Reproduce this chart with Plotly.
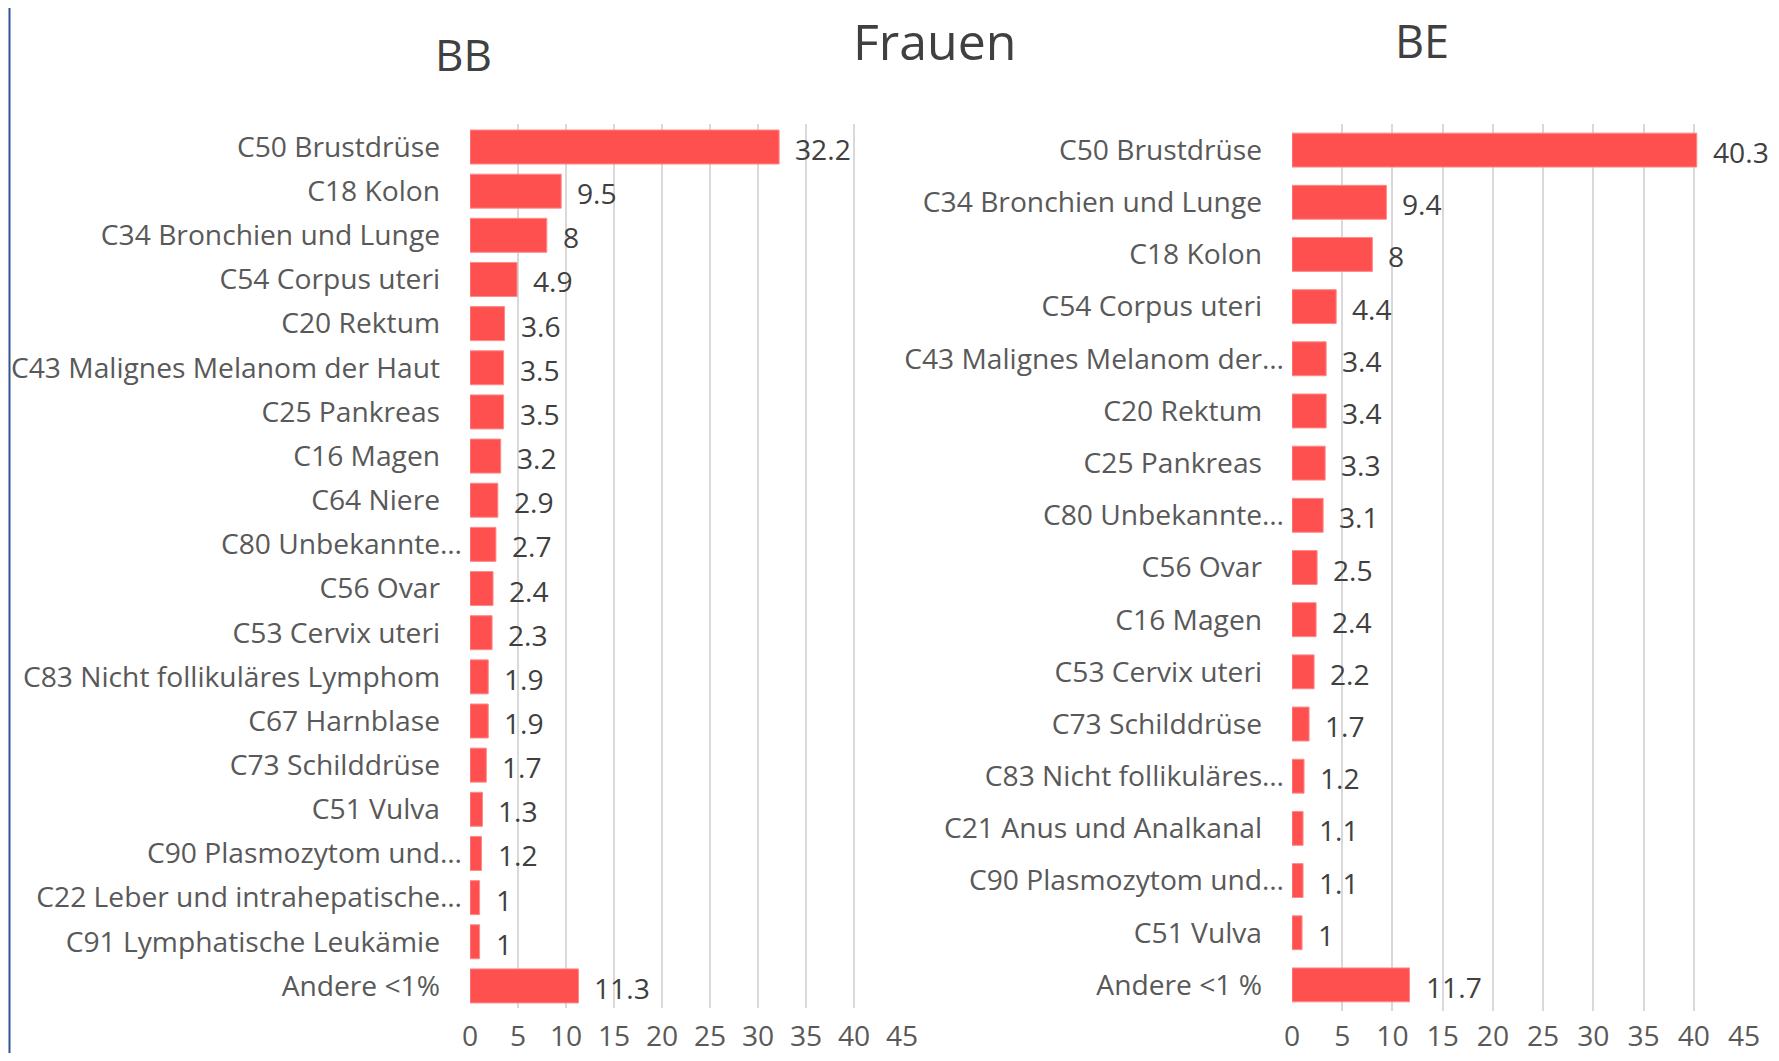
import plotly.graph_objects as go

# The page body keeps its default 8px margin, so the figure is sized to fit
# inside the 1779x1061 window and reference screen coordinates are shifted.
WIN_W, WIN_H = 1779, 1061
OFF = 8
W, H = WIN_W - 2 * OFF, WIN_H - 2 * OFF


def px(X):
    return (X - OFF) / W


def py(Y):
    return (WIN_H - OFF - Y) / H


bb_categories = [
    "C50 Brustdrüse", "C18 Kolon", "C34 Bronchien und Lunge", "C54 Corpus uteri",
    "C20 Rektum", "C43 Malignes Melanom der Haut", "C25 Pankreas", "C16 Magen",
    "C64 Niere", "C80 Unbekannte…", "C56 Ovar", "C53 Cervix uteri",
    "C83 Nicht follikuläres Lymphom", "C67 Harnblase", "C73 Schilddrüse",
    "C51 Vulva", "C90 Plasmozytom und…", "C22 Leber und intrahepatische…",
    "C91 Lymphatische Leukämie", "Andere <1%",
]
bb_values = [32.2, 9.5, 8, 4.9, 3.6, 3.5, 3.5, 3.2, 2.9, 2.7, 2.4, 2.3, 1.9, 1.9,
             1.7, 1.3, 1.2, 1, 1, 11.3]

be_categories = [
    "C50 Brustdrüse", "C34 Bronchien und Lunge", "C18 Kolon", "C54 Corpus uteri",
    "C43 Malignes Melanom der…", "C20 Rektum", "C25 Pankreas", "C80 Unbekannte…",
    "C56 Ovar", "C16 Magen", "C53 Cervix uteri", "C73 Schilddrüse",
    "C83 Nicht follikuläres…", "C21 Anus und Analkanal", "C90 Plasmozytom und…",
    "C51 Vulva", "Andere <1 %",
]
be_values = [40.3, 9.4, 8, 4.4, 3.4, 3.4, 3.3, 3.1, 2.5, 2.4, 2.2, 1.7, 1.2, 1.1,
             1.1, 1, 11.7]

x_ticks = [0, 5, 10, 15, 20, 25, 30, 35, 40, 45]

FONT = "Open Sans"
FS = 28.2
LABEL_C = "#595959"
VALUE_C = "#404040"
BAR_C = "#FF5050"
GRID_C = "#D9D9D9"


def padded(labels):
    # Excel-style: truncated labels sit closer to the axis than full ones
    return [l if l.endswith("…") else l + "\u00a0\u00a0\u00a0" for l in labels]


fig = go.Figure()
fig.add_trace(go.Bar(
    x=bb_values, y=bb_categories, orientation="h", width=0.77,
    marker=dict(color=BAR_C, line=dict(color="#FF8A8A", width=1)),
    xaxis="x", yaxis="y", showlegend=False, hoverinfo="x+y",
))
fig.add_trace(go.Bar(
    x=be_values, y=be_categories, orientation="h", width=0.65,
    marker=dict(color=BAR_C, line=dict(color="#FF8A8A", width=1)),
    xaxis="x2", yaxis="y2", showlegend=False, hoverinfo="x+y",
))

annotations = []
for cats, vals, xr, yr in [(bb_categories, bb_values, "x", "y"),
                           (be_categories, be_values, "x2", "y2")]:
    for c, v in zip(cats, vals):
        annotations.append(dict(
            x=v, y=c, xref=xr, yref=yr, text=f"{v:g}", showarrow=False,
            xanchor="left", yanchor="middle", xshift=14, yshift=-2,
            font=dict(family=FONT, size=FS, color=VALUE_C),
        ))

annotations += [
    dict(x=px(934), y=py(41), xref="paper", yref="paper", text="Frauen",
         showarrow=False, xanchor="center", yanchor="middle",
         font=dict(family=FONT, size=50, color=VALUE_C)),
    dict(x=px(463), y=py(54), xref="paper", yref="paper", text="BB",
         showarrow=False, xanchor="center", yanchor="middle",
         font=dict(family=FONT, size=44, color=VALUE_C)),
    dict(x=px(1422), y=py(40), xref="paper", yref="paper", text="BE",
         showarrow=False, xanchor="center", yanchor="middle",
         font=dict(family=FONT, size=45, color=VALUE_C)),
]

axis_x_common = dict(
    range=[0, 45], tickmode="array", tickvals=x_ticks, showgrid=True,
    gridcolor=GRID_C, gridwidth=2, zeroline=False, showline=False, ticks="",
    tickfont=dict(family=FONT, size=FS, color=LABEL_C), fixedrange=True,
    automargin=False,
)
axis_y_common = dict(
    showgrid=False, zeroline=False, showline=False, ticks="",
    tickfont=dict(family=FONT, size=FS, color=LABEL_C), fixedrange=True,
    ticklabelstandoff=7, autorange="reversed", tickmode="array",
    categoryorder="array", automargin=False,
)

fig.update_layout(
    width=W, height=H,
    margin=dict(l=0, r=0, t=0, b=0, pad=0),
    paper_bgcolor="white", plot_bgcolor="white",
    xaxis=dict(domain=[px(470), px(902)], anchor="y", ticklabelstandoff=9,
               **axis_x_common),
    yaxis=dict(domain=[py(1008), py(124)], anchor="x",
               categoryarray=bb_categories, tickvals=bb_categories,
               ticktext=padded(bb_categories), **axis_y_common),
    xaxis2=dict(domain=[px(1292), px(1744)], anchor="y2", ticklabelstandoff=6,
                **axis_x_common),
    yaxis2=dict(domain=[py(1011), py(124)], anchor="x2",
                categoryarray=be_categories, tickvals=be_categories,
                ticktext=padded(be_categories), **axis_y_common),
    annotations=annotations,
    shapes=[
        dict(type="line", xref="paper", yref="paper", x0=px(9.5), x1=px(9.5),
             y0=0, y1=1, line=dict(color="#2F5597", width=2)),
    ],
)

fig.write_html("out.html", config={"displayModeBar": False})
